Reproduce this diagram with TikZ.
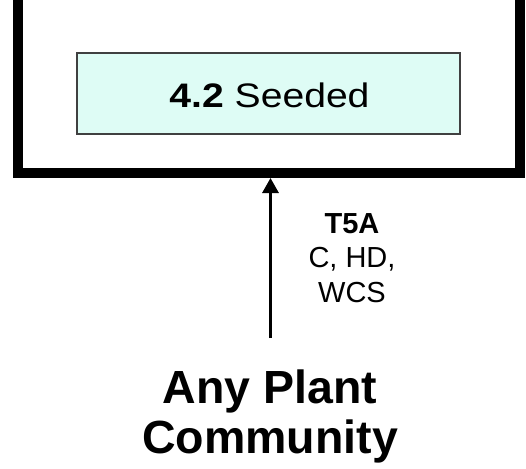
\documentclass[tikz,border=0pt]{standalone}
\usepackage{fontspec}
\setmainfont{Liberation Sans}
\usetikzlibrary{arrows.meta}
\definecolor{seedfill}{RGB}{222,252,245}
\definecolor{seededge}{RGB}{64,64,64}
\tikzset{
  statebox/.style={draw=black, line width=10pt, inner sep=0pt, minimum width=502pt, minimum height=203pt},
  phasebox/.style={draw=seededge, line width=1.6pt, fill=seedfill, inner sep=0pt, minimum width=383pt, minimum height=81pt},
  trans/.style={line width=3pt, -{Triangle[length=15pt,width=16pt]}},
  translabel/.style={align=center, inner sep=0pt, font=\fontsize{29}{34.5}\selectfont},
  commlabel/.style={align=center, inner sep=0pt, font=\bfseries\fontsize{46.5}{50}\selectfont}
}
\begin{document}
\begin{tikzpicture}[x=1pt,y=-1pt]
\useasboundingbox (0,0) rectangle (526,468);
\clip (0,0) rectangle (526,468);
\node[statebox] (state) at (269,71.5) {};
\node[phasebox] (phase) at (268.5,93.5) {};
\node[anchor=base, inner sep=0pt, xscale=1.15, transform shape, font=\fontsize{34}{40}\selectfont] (seedtext) at (269.5,107) {\textbf{4.2} Seeded};
\node[translabel, anchor=base] (lab) at (352,302) {\textbf{T5A}\\C, HD,\\WCS};
\node[commlabel, anchor=base] (any) at (270,453) {Any Plant\\Community};
\coordinate (tip) at (270.5,178);
\coordinate (tail) at (270.5,338);
\draw[trans] (tail) -- (tip);
\end{tikzpicture}
\end{document}
